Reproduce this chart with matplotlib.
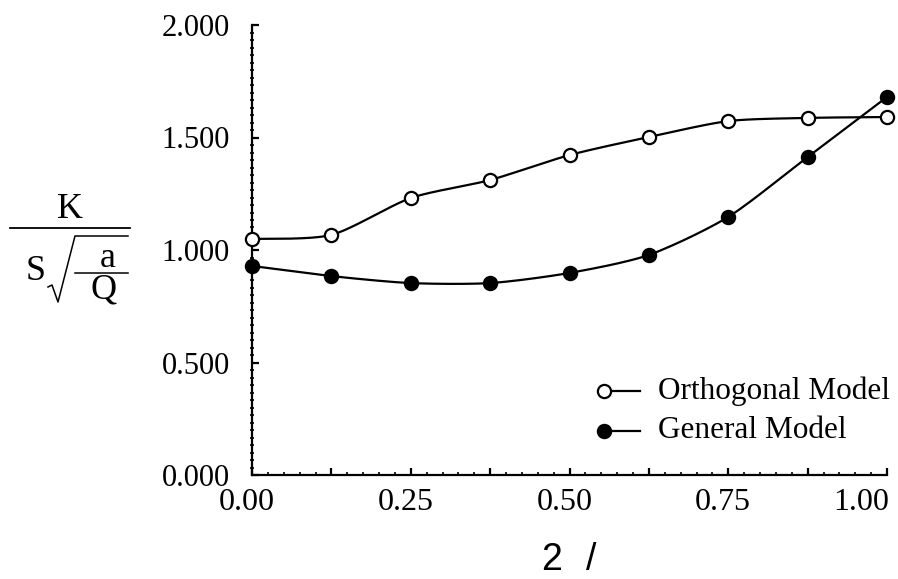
import numpy as np
from matplotlib import pyplot as plt
from matplotlib.lines import Line2D
from matplotlib.transforms import ScaledTranslation
from matplotlib.ticker import FixedLocator, FormatStrFormatter

plt.rcParams['font.family'] = 'Liberation Serif'
plt.rcParams['font.size'] = 22

#---- Data

x_pos = [0.0, 0.125, 0.25, 0.375, 0.5, 0.625, 0.75, 0.875, 1.0]
orthogonal = [1.049, 1.067, 1.231, 1.311, 1.422, 1.502, 1.573, 1.587, 1.591]
general = [0.929, 0.884, 0.853, 0.853, 0.898, 0.978, 1.147, 1.413, 1.680]

y_ticks = [0.0, 0.5, 1.0, 1.5, 2.0]
x_labels = [0.0, 0.25, 0.5, 0.75, 1.0]
legend_names = ['Orthogonal Model', 'General Model']


#---- Smoothed line (Bezier through the points, like a spreadsheet "smooth line")

def smooth(x, y, n=24, k=8.0):
    p = np.column_stack((x, y))
    p = np.vstack((p[0], p, p[-1]))
    out = []
    for i in range(1, len(p) - 2):
        p0, p1, p2, p3 = p[i - 1], p[i], p[i + 1], p[i + 2]
        c1 = p1 + (p2 - p0) / k
        c2 = p2 - (p3 - p1) / k
        t = np.linspace(0, 1, n)[:, None]
        seg = ((1 - t) ** 3) * p1 + 3 * ((1 - t) ** 2) * t * c1 + 3 * (1 - t) * t ** 2 * c2 + t ** 3 * p2
        out.append(seg if i == 1 else seg[1:])
    out = np.vstack(out)
    return out[:, 0], out[:, 1]


W, H = 898, 579

fig = plt.figure(figsize=(W / 100, H / 100), dpi=100)
ax = fig.add_axes([252 / W, 1 - 475 / H, 635 / W, 450 / H])

ax.set_xlim(0, 1.0)
ax.set_ylim(0, 2.0)

for name, yv, face in [(legend_names[0], orthogonal, 'white'), (legend_names[1], general, 'black')]:
    sx, sy = smooth(x_pos, yv)
    ax.plot(sx, sy, color='black', lw=1.6, solid_capstyle='round', zorder=2, clip_on=False)
    ax.plot(x_pos, yv, 'o', ms=9.5, mfc=face, mec='black', mew=1.6, zorder=3, clip_on=False)

for sp in ['top', 'right']:
    ax.spines[sp].set_visible(False)
for sp in ['left', 'bottom']:
    ax.spines[sp].set_linewidth(1.6)

ax.yaxis.set_major_locator(FixedLocator(y_ticks))
ax.yaxis.set_minor_locator(FixedLocator(np.arange(0, 2.0001, 0.5 / 15)))
ax.yaxis.set_major_formatter(FormatStrFormatter('%.3f'))
x_major = np.arange(0, 1.0001, 0.125)
ax.xaxis.set_major_locator(FixedLocator(x_major))
ax.xaxis.set_minor_locator(FixedLocator(np.arange(0, 1.0001, 0.025)))
ax.set_xticklabels(['%.2f' % v if v in x_labels else '' for v in x_major])

ax.tick_params(axis='y', which='major', direction='in', length=5, width=1.6, pad=16, labelsize=22)
ax.tick_params(axis='y', which='minor', direction='inout', length=3, width=1.2)
ax.tick_params(axis='x', which='major', direction='in', length=5, width=1.6, pad=9, labelsize=23)
ax.tick_params(axis='x', which='minor', direction='in', length=2.5, width=1.2)

# labels sit a little left of their ticks; the last one ends at the figure edge
labels = ax.get_xticklabels()
for lab in labels[:-1]:
    lab.set_transform(lab.get_transform() + ScaledTranslation(-5 / 100, 0, fig.dpi_scale_trans))
labels[-1].set_horizontalalignment('right')
labels[-1].set_transform(labels[-1].get_transform() + ScaledTranslation(2 / 100, 0, fig.dpi_scale_trans))

#---> Legend drawn by hand (marker at the left end of the sample line)

for i, (name, face) in enumerate([(legend_names[0], 'white'), (legend_names[1], 'black')]):
    yy = 0.187 - i * 0.089
    ax.plot([0.554, 0.611], [yy, yy], color='black', lw=1.6, transform=ax.transAxes)
    ax.plot([0.554], [yy], 'o', ms=9.5, mfc=face, mec='black', mew=1.6, transform=ax.transAxes)
    ax.text(0.639, yy, name, transform=ax.transAxes, va='center', ha='left', fontsize=22.5)

#---> Axis titles

def fx(px):
    return px / W

def fy(py):
    return 1 - py / H

fig.text(fx(70), fy(218), 'K', ha='center', va='baseline', fontsize=26)
fig.add_artist(Line2D([fx(10), fx(130)], [fy(228), fy(228)], color='black', lw=1.3))
fig.text(fx(36), fy(280), 'S', ha='center', va='baseline', fontsize=26)
fig.add_artist(Line2D([fx(48), fx(52), fx(58), fx(75), fx(128)],
                      [fy(287), fy(285), fy(302), fy(236), fy(236)], color='black', lw=1.1))
fig.text(fx(108), fy(267), 'a', ha='center', va='baseline', fontsize=26)
fig.add_artist(Line2D([fx(75), fx(128)], [fy(273), fy(273)], color='black', lw=1.1))
fig.text(fx(104), fy(298), 'Q', ha='center', va='baseline', fontsize=26)

fig.text(fx(541), fy(560), '2', ha='left', va='center', fontsize=27, family='Liberation Sans')
fig.text(fx(586), fy(560), '/', ha='left', va='center', fontsize=27, family='Liberation Sans')

fig.savefig('out.png', dpi=100)
